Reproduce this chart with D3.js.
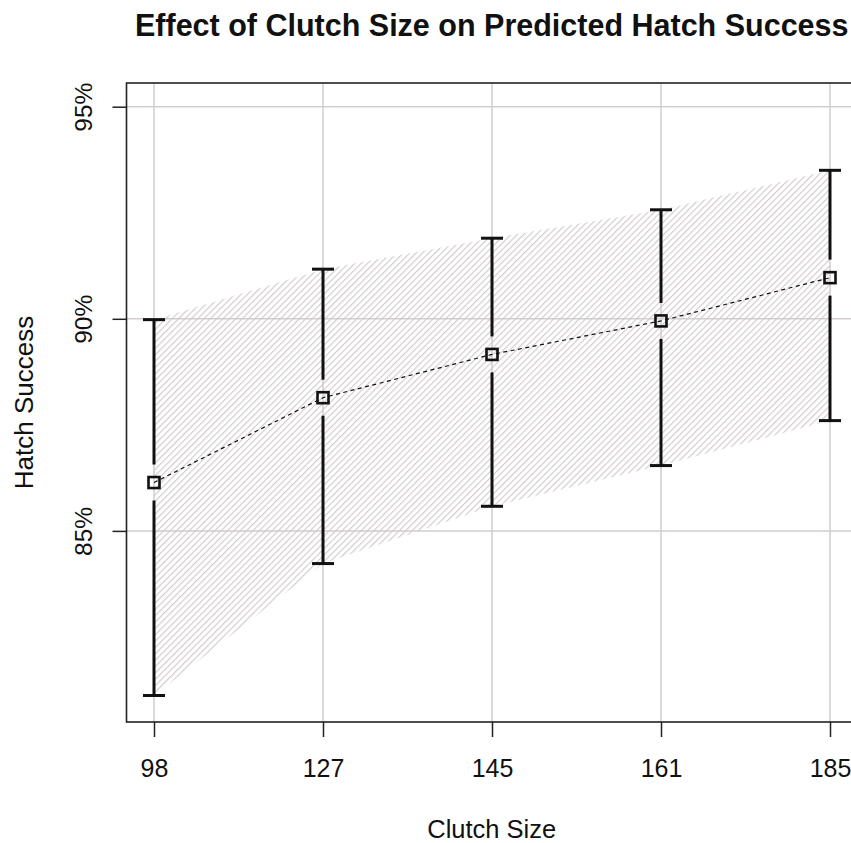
<!DOCTYPE html>
<html><head><meta charset="utf-8">
<script src="https://cdn.jsdelivr.net/npm/d3@7"></script>
<style>body{margin:0;background:#fff}svg{display:block}text{font-family:"Liberation Sans",Arial,sans-serif;fill:#111}</style>
</head><body><svg id="c" width="851" height="843"></svg>
<script>
const categories = ["98","127","145","161","185"];
const predicted = [86.14, 88.14, 89.16, 89.95, 90.97];
const lower = [81.12, 84.23, 85.58, 86.54, 87.60];
const upper = [89.98, 91.17, 91.90, 92.57, 93.50];
const yTicks = [85, 90, 95];
const title = "Effect of Clutch Size on Predicted Hatch Success";
const xTitle = "Clutch Size";
const yTitle = "Hatch Success";

const svg = d3.select("#c");
const L = 126.5, R = 857, T = 83, B = 722;
const x = d3.scalePoint().domain(categories).range([154, 830]);
const y = d3.scaleLinear().domain([85, 95]).range([530.9, 106.7]);
const data = categories.map((c,i)=>({c, p:predicted[i], lo:lower[i], hi:upper[i]}));

const defs = svg.append("defs");
const pat = defs.append("pattern").attr("id","hatch").attr("patternUnits","userSpaceOnUse")
  .attr("width",4.5).attr("height",10).attr("patternTransform","rotate(45)");
pat.append("line").attr("x1",0.6).attr("y1",0).attr("x2",0.6).attr("y2",10)
  .attr("stroke","#d0c9c9").attr("stroke-width",1.1);

// grid
const g = svg.append("g");
g.selectAll(".gv").data(categories).join("line")
  .attr("x1",d=>x(d)).attr("x2",d=>x(d)).attr("y1",T).attr("y2",B)
  .attr("stroke","#d3cdcd").attr("stroke-width",1.5);
g.selectAll(".gh").data(yTicks).join("line")
  .attr("x1",L).attr("x2",R).attr("y1",d=>y(d)).attr("y2",d=>y(d))
  .attr("stroke","#d3cdcd").attr("stroke-width",1.5);

// band
const area = d3.area().x(d=>x(d.c)).y0(d=>y(d.lo)).y1(d=>y(d.hi));
svg.append("path").datum(data).attr("d",area).attr("fill","url(#hatch)");

// dashed line
const line = d3.line().x(d=>x(d.c)).y(d=>y(d.p));
svg.append("path").datum(data).attr("d",line).attr("fill","none")
  .attr("stroke","#111").attr("stroke-width",1.2).attr("stroke-dasharray","4,3.5");

// error bars
const eb = svg.append("g").attr("stroke","#111").attr("stroke-width",3);
const gap = 18;
data.forEach(d=>{
  const cx = x(d.c);
  eb.append("line").attr("x1",cx).attr("x2",cx).attr("y1",y(d.hi)).attr("y2",y(d.p)-gap);
  eb.append("line").attr("x1",cx).attr("x2",cx).attr("y1",y(d.p)+gap).attr("y2",y(d.lo));
  eb.append("line").attr("x1",cx-11).attr("x2",cx+11).attr("y1",y(d.hi)).attr("y2",y(d.hi));
  eb.append("line").attr("x1",cx-11).attr("x2",cx+11).attr("y1",y(d.lo)).attr("y2",y(d.lo));
});
svg.append("g").selectAll("rect").data(data).join("rect")
  .attr("x",d=>x(d.c)-5.5).attr("y",d=>y(d.p)-5.5).attr("width",11).attr("height",11)
  .attr("fill","none").attr("stroke","#111").attr("stroke-width",2.6);

// frame
svg.append("rect").attr("x",L).attr("y",T).attr("width",R-L).attr("height",B-T)
  .attr("fill","none").attr("stroke","#222").attr("stroke-width",1.6);

// axes
const xa = svg.append("g").attr("transform",`translate(0,${B})`)
  .call(d3.axisBottom(x).tickSize(15).tickPadding(22));
xa.select(".domain").remove();
xa.selectAll("line").attr("stroke","#222").attr("stroke-width",1.5);
xa.selectAll("text").attr("font-size",25).attr("fill","#111").attr("font-family","Liberation Sans, Arial, sans-serif");

const ya = svg.append("g").attr("transform",`translate(${L},0)`)
  .call(d3.axisLeft(y).tickValues(yTicks).tickSize(14).tickFormat(d=>d+"%"));
ya.select(".domain").remove();
ya.selectAll("line").attr("stroke","#222").attr("stroke-width",1.5);
ya.selectAll("text").attr("font-size",24.5).attr("fill","#111").attr("font-family","Liberation Sans, Arial, sans-serif")
  .attr("text-anchor","middle").attr("dy",0).attr("x",0)
  .attr("transform","translate(-35,0) rotate(-90)");

svg.append("text").attr("x",(L+R)/2).attr("y",36).attr("text-anchor","middle")
  .attr("font-size",30.5).attr("font-weight","bold").text(title);
svg.append("text").attr("x",(L+R)/2).attr("y",838).attr("text-anchor","middle")
  .attr("font-size",25.5).text(xTitle);
svg.append("text").attr("transform",`translate(33,${(T+B)/2}) rotate(-90)`).attr("text-anchor","middle")
  .attr("font-size",26).text(yTitle);
</script></body></html>
